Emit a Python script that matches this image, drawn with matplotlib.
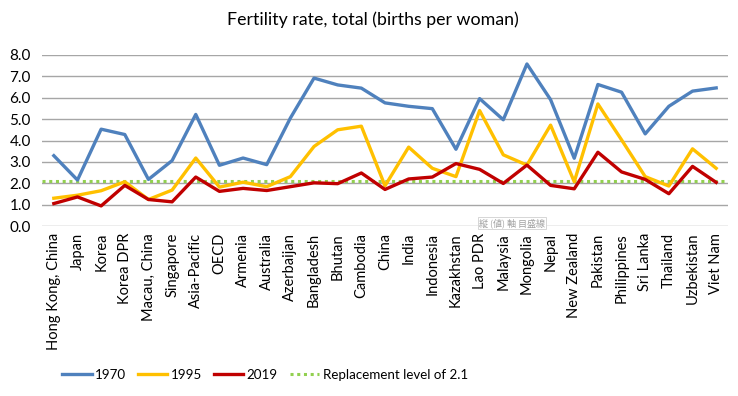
import numpy as np
import matplotlib
matplotlib.use('Agg')
import matplotlib.pyplot as plt

plt.rcParams['font.family'] = ['Lato', 'DejaVu Sans']

# data
countries = ['Hong Kong, China', 'Japan', 'Korea', 'Korea DPR', 'Macau, China',
             'Singapore', 'Asia-Pacific', 'OECD', 'Armenia', 'Australia',
             'Azerbaijan', 'Bangladesh', 'Bhutan', 'Cambodia', 'China', 'India',
             'Indonesia', 'Kazakhstan', 'Lao PDR', 'Malaysia', 'Mongolia', 'Nepal',
             'New Zealand', 'Pakistan', 'Philippines', 'Sri Lanka', 'Thailand',
             'Uzbekistan', 'Viet Nam']
rate_1970 = [3.29, 2.15, 4.53, 4.28, 2.18, 3.06, 5.22, 2.84, 3.18, 2.87,
             5.05, 6.92, 6.60, 6.45, 5.76, 5.60, 5.49, 3.59, 5.96, 4.97,
             7.58, 5.91, 3.17, 6.62, 6.26, 4.31, 5.60, 6.31, 6.46]
rate_1995 = [1.30, 1.44, 1.65, 2.07, 1.24, 1.68, 3.18, 1.82, 2.05, 1.84,
             2.31, 3.72, 4.50, 4.67, 1.88, 3.69, 2.70, 2.31, 5.40, 3.33,
             2.85, 4.72, 2.07, 5.71, 4.03, 2.31, 1.87, 3.61, 2.70]
rate_2019 = [1.05, 1.36, 0.94, 1.90, 1.24, 1.13, 2.29, 1.62, 1.76, 1.66,
             1.84, 2.02, 1.98, 2.48, 1.71, 2.20, 2.29, 2.92, 2.65, 1.99,
             2.85, 1.90, 1.74, 3.45, 2.53, 2.18, 1.51, 2.79, 2.04]
replacement = 2.1

fig = plt.figure(figsize=(7.38, 3.96), dpi=100)
ax = fig.add_axes([42 / 738, 1 - 226 / 396, 686 / 738, 171 / 396])

x = np.arange(len(countries))
ax.plot(x, rate_1970, color='#4F81BD', lw=2.4, label='1970', zorder=3)
ax.plot(x, rate_1995, color='#FFC000', lw=2.4, label='1995', zorder=3)
ax.plot(x, rate_2019, color='#C00000', lw=2.4, label='2019', zorder=4)
ax.axhline(replacement, color='#92D050', lw=2.2, ls=(0, (1, 1.2)),
           label='Replacement level of 2.1', zorder=2)

ax.set_xlim(-0.5, len(countries) - 0.5)
ax.set_ylim(0, 8)
ax.set_yticks(np.arange(0, 9, 1))
ax.set_yticklabels([f'{v:.1f}' for v in range(9)], fontsize=11)
ax.set_xticks(x)
ax.set_xticklabels(countries, rotation=90, fontsize=10.5)
ax.tick_params(length=0, pad=5)
ax.tick_params(axis='y', pad=8)
ax.grid(axis='y', color='#A6A6A6', lw=1)
ax.set_axisbelow(True)
for s in ax.spines.values():
    s.set_visible(False)

fig.text(373 / 738, 1 - 20 / 396, 'Fertility rate, total (births per woman)',
         ha='center', va='center', fontsize=12.8)

# leftover Excel tooltip in the screenshot
fig.text(512 / 738, 1 - 223 / 396, '縦 (値) 軸 目盛線', ha='center', va='center',
         fontsize=6.5, color='#A0A0A0', family=['Noto Sans CJK JP', 'DejaVu Sans'],
         bbox=dict(boxstyle='square,pad=0.15', fc='white', ec='#D0D0D0', lw=0.6))

fig.legend(loc='center', bbox_to_anchor=(265 / 738, 1 - 375 / 396), ncol=4,
           frameon=False, handlelength=2.2, columnspacing=0.9,
           handletextpad=0.25, fontsize=9.6)

fig.savefig('out.png', dpi=100)
